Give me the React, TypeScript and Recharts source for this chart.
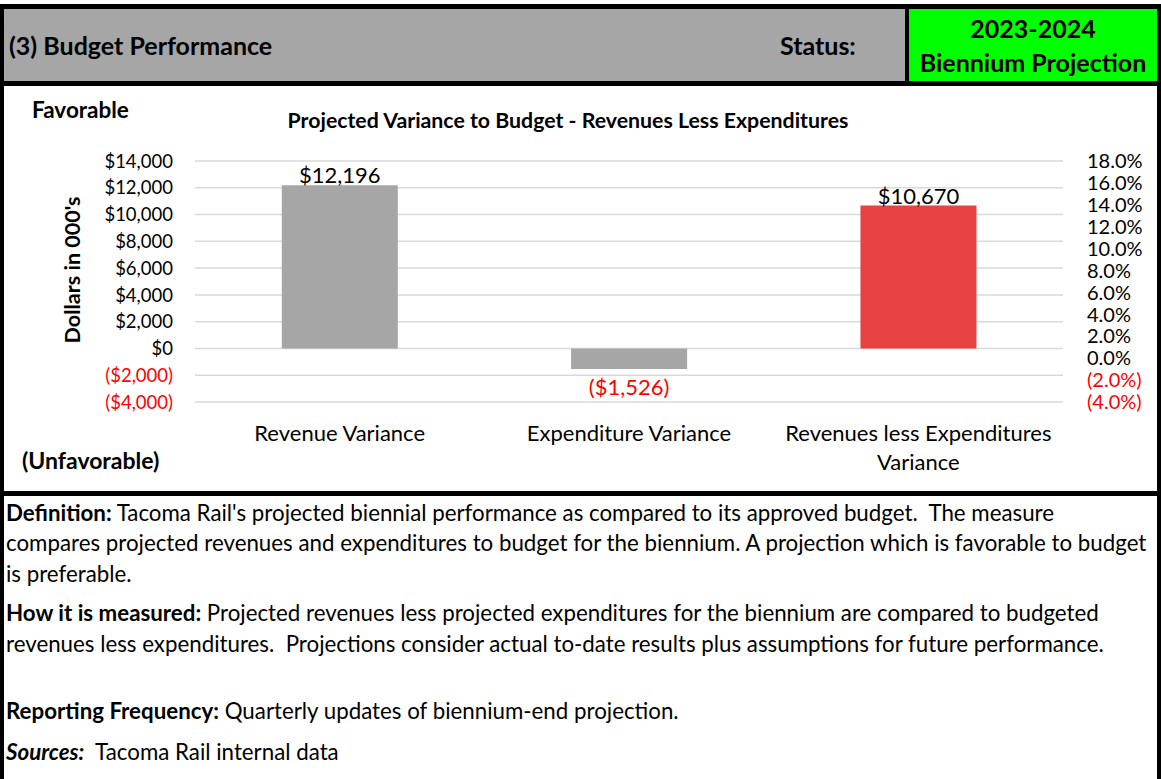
import React from 'react';
import { BarChart, Bar, XAxis, YAxis, CartesianGrid, Cell, LabelList } from 'recharts';

const categories = ['Revenue Variance', 'Expenditure Variance', 'Revenues less Expenditures Variance'];
const variance = [12196, -1526, 10670];
const barColors = ['#A6A6A6', '#A6A6A6', '#E84142'];
const dollarTicks = [-4000, -2000, 0, 2000, 4000, 6000, 8000, 10000, 12000, 14000];
const pctTicks = [-4, -2, 0, 2, 4, 6, 8, 10, 12, 14, 16, 18];

const data = categories.map((name, i) => ({ name, variance: variance[i] }));

const FONT = 'Lato, "Open Sans", sans-serif';
const RED = '#FF0000';

const money = (v: number) => {
  const s = '$' + Math.abs(v).toLocaleString('en-US');
  return v < 0 ? `(${s})` : s;
};
const pct = (v: number) => {
  const s = Math.abs(v).toFixed(1) + '%';
  return v < 0 ? `(${s})` : s;
};

function MoneyTick(props: any) {
  const { x, y, payload, textAnchor } = props;
  return (
    <text x={x} y={y} dy="0.36em" textAnchor={textAnchor} fontSize={18.5} fontFamily={FONT}
      fill={payload.value < 0 ? RED : '#000'}>
      {money(payload.value)}
    </text>
  );
}

function PctTick(props: any) {
  const { x, y, payload, textAnchor } = props;
  return (
    <text x={x} y={y} dy="0.36em" textAnchor={textAnchor} fontSize={20} fontFamily={FONT}
      fill={payload.value < 0 ? RED : '#000'}>
      {pct(payload.value)}
    </text>
  );
}

function CategoryTick(props: any) {
  const { x, y, payload } = props;
  const words = String(payload.value).split(' ');
  const lines = payload.value.length > 22
    ? [words.slice(0, -1).join(' '), words[words.length - 1]]
    : [payload.value];
  return (
    <text x={x} y={y} textAnchor="middle" fontSize={22} fontFamily={FONT} fill="#000">
      {lines.map((l: string, i: number) => (
        <tspan key={i} x={x} dy={i === 0 ? 31 : 29}>{l}</tspan>
      ))}
    </text>
  );
}

function ValueLabel(props: any) {
  const { x, y, width, height, value } = props;
  const top = Math.min(y, y + height);
  const bottom = Math.max(y, y + height);
  const neg = value < 0;
  return (
    <text x={x + width / 2} y={neg ? bottom + 18 : top - 10} dy="0.36em" textAnchor="middle"
      fontSize={22} fontFamily={FONT} fill={neg ? RED : '#000'}>
      {money(value)}
    </text>
  );
}

const abs = (o: React.CSSProperties): React.CSSProperties => ({ position: 'absolute', ...o });
// text box centred vertically on cy
const line = (cy: number, size: number, o: React.CSSProperties = {}): React.CSSProperties =>
  abs({ top: cy - 15, height: 30, lineHeight: '30px', fontSize: size, whiteSpace: 'nowrap', ...o });

const BODY = 22.3;

export default function App() {
  return (
    <div style={abs({ left: 0, top: 0, width: 1161, height: 779, background: '#fff', fontFamily: FONT, overflow: 'hidden' })}>
      {/* frame */}
      <div style={abs({ left: 0, top: 4, width: 1161, height: 5, background: '#000' })} />
      <div style={abs({ left: 0, top: 4, width: 4, height: 775, background: '#000' })} />
      <div style={abs({ left: 1157, top: 4, width: 4, height: 775, background: '#000' })} />
      <div style={abs({ left: 4, top: 9, width: 901, height: 72, background: '#A6A6A6' })} />
      <div style={abs({ left: 905, top: 9, width: 4, height: 72, background: '#000' })} />
      <div style={abs({ left: 909, top: 9, width: 248, height: 72, background: '#00FF00' })} />
      <div style={abs({ left: 0, top: 81, width: 1161, height: 5, background: '#000' })} />
      <div style={abs({ left: 0, top: 491, width: 1161, height: 5, background: '#000' })} />

      {/* header */}
      <div style={line(45, 25, { left: 9, fontWeight: 700 })}>(3) Budget Performance</div>
      <div style={line(45, 25, { left: 780, fontWeight: 700 })}>Status:</div>
      <div style={line(28, 25, { left: 909, width: 248, textAlign: 'center', fontWeight: 700 })}>2023-2024</div>
      <div style={line(62, 25, { left: 909, width: 248, textAlign: 'center', fontWeight: 700 })}>Biennium Projection</div>

      {/* chart area */}
      <div style={line(110, 22.5, { left: 32, fontWeight: 700 })}>Favorable</div>
      <div style={line(460, 23, { left: 22, fontWeight: 700 })}>(Unfavorable)</div>
      <div style={line(120, 21.3, { left: 568, transform: 'translateX(-50%)', fontWeight: 700 })}>
        Projected Variance to Budget - Revenues Less Expenditures
      </div>
      <div style={abs({ left: 72, top: 270, transform: 'translate(-50%, -50%) rotate(-90deg)', fontSize: 21.5, fontWeight: 700, whiteSpace: 'nowrap' })}>
        Dollars in 000's
      </div>

      <div style={abs({ left: 0, top: 86, width: 1161, height: 405 })}>
        <BarChart width={1161} height={405} data={data} barCategoryGap="30%"
          margin={{ top: 75, right: 0, bottom: 0, left: 0 }}>
          <CartesianGrid horizontal vertical={false} stroke="#D9D9D9" strokeWidth={1.5} yAxisId="usd" />
          <XAxis dataKey="name" axisLine={false} tickLine={false} height={89} interval={0} tick={<CategoryTick />} />
          <YAxis yAxisId="usd" orientation="left" width={195} domain={[-4000, 14000]} ticks={dollarTicks}
            axisLine={false} tickLine={false} tickMargin={16} tick={<MoneyTick />} interval={0} />
          <YAxis yAxisId="pct" orientation="right" width={98} domain={[-4, 18]} ticks={pctTicks}
            axisLine={false} tickLine={false} tickMargin={18} tick={<PctTick />} interval={0} allowDataOverflow />
          <Bar yAxisId="usd" dataKey="variance" isAnimationActive={false}>
            {data.map((d, i) => <Cell key={d.name} fill={barColors[i]} />)}
            <LabelList dataKey="variance" content={<ValueLabel />} />
          </Bar>
        </BarChart>
      </div>

      {/* notes */}
      <div style={line(513, BODY, { left: 6 })}>
        <b>Definition:</b> Tacoma Rail's projected biennial performance as compared to its approved budget.&nbsp; The measure
      </div>
      <div style={line(543, BODY, { left: 6 })}>
        compares projected revenues and expenditures to budget for the biennium. A projection which is favorable to budget
      </div>
      <div style={line(574, BODY, { left: 6 })}>is preferable.</div>
      <div style={line(613, BODY, { left: 6 })}>
        <b>How it is measured:</b> Projected revenues less projected expenditures for the biennium are compared to budgeted
      </div>
      <div style={line(644, BODY, { left: 6 })}>
        revenues less expenditures.&nbsp; Projections consider actual to-date results plus assumptions for future performance.
      </div>
      <div style={line(711, BODY, { left: 6 })}>
        <b>Reporting Frequency:</b> Quarterly updates of biennium-end projection.
      </div>
      <div style={line(752, BODY, { left: 6 })}>
        <b><i>Sources:</i></b>&nbsp; Tacoma Rail internal data
      </div>
    </div>
  );
}
